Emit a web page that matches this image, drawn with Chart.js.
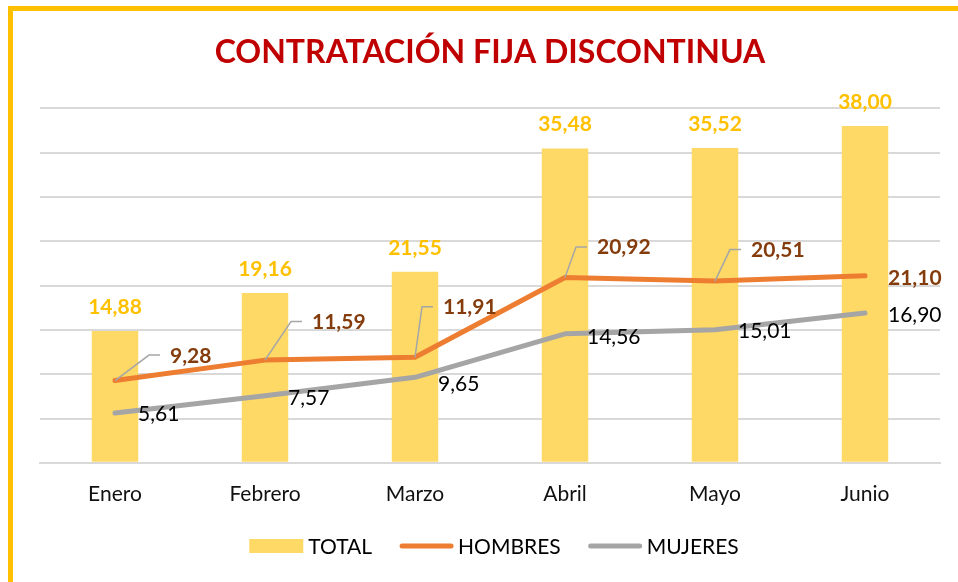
<!DOCTYPE html>
<html>
<head>
<meta charset="utf-8">
<title>Contratación fija discontinua</title>
<script src="https://cdn.jsdelivr.net/npm/chart.js@4.4.0/dist/chart.umd.min.js"></script>
<style>
  body { margin: 0; background: #fff; overflow: hidden; }
  #frame {
    position: absolute; left: 8px; top: 6px; width: 980px; height: 600px;
    border-top: 5px solid #FFC000; border-left: 5px solid #FFC000;
  }
  #wrap { position: absolute; left: 0; top: 0; width: 958px; height: 582px; }
</style>
</head>
<body>
<div id="frame"></div>
<div id="wrap"><canvas id="chart" width="958" height="582"></canvas></div>
<script>
// datos del gráfico
const meses = ['Enero', 'Febrero', 'Marzo', 'Abril', 'Mayo', 'Junio'];
const total = [14.88, 19.16, 21.55, 35.48, 35.52, 38.00];
const hombres = [9.28, 11.59, 11.91, 20.92, 20.51, 21.10];
const mujeres = [5.61, 7.57, 9.65, 14.56, 15.01, 16.90];
const ejeMax = 40;
const ejePaso = 5;

const FONT = 'Lato, "Open Sans", sans-serif';
const fmt = v => v.toFixed(2).replace('.', ',');

// where each hand placed label sits relative to its point: [dx to left edge, dy to baseline]
const posHombres = [[55, -18], [47, -31], [28, -43], [32, -23], [36, -24], [23, 9]];
const posMujeres = [[23, 8], [23, 9], [23, 14], [22, 10], [23, 8], [23, 9]];

const etiquetas = {
    id: 'etiquetas',
    afterDatasetsDraw(chart) {
        const ctx = chart.ctx;
        ctx.save();

        // TOTAL labels above the bars
        ctx.font = 'bold 21px ' + FONT;
        ctx.fillStyle = '#FFC000';
        ctx.textAlign = 'center';
        ctx.textBaseline = 'alphabetic';
        chart.getDatasetMeta(0).data.forEach((bar, i) => {
            ctx.fillText(fmt(total[i]), bar.x, bar.y - 17);
        });

        // HOMBRES labels with leader lines
        ctx.textAlign = 'left';
        chart.getDatasetMeta(1).data.forEach((pt, i) => {
            const [dx, dy] = posHombres[i];
            const lx = pt.x + dx, ly = pt.y + dy;
            if (i < hombres.length - 1) {
                ctx.strokeStyle = '#A6A6A6';
                ctx.lineWidth = 1.5;
                ctx.beginPath();
                ctx.moveTo(pt.x, pt.y);
                ctx.lineTo(lx - 21, ly - 7.5);
                ctx.lineTo(lx - 10, ly - 7.5);
                ctx.stroke();
            }
            ctx.fillStyle = '#843C0C';
            ctx.font = 'bold 21px ' + FONT;
            ctx.fillText(fmt(hombres[i]), lx, ly);
        });

        // MUJERES labels
        ctx.font = '21px ' + FONT;
        ctx.fillStyle = '#000';
        chart.getDatasetMeta(2).data.forEach((pt, i) => {
            const [dx, dy] = posMujeres[i];
            ctx.fillText(fmt(mujeres[i]), pt.x + dx, pt.y + dy);
        });
        ctx.restore();
    },
    afterDraw(chart) {
        // legend at the bottom
        const ctx = chart.ctx;
        const area = chart.chartArea;
        ctx.save();
        ctx.font = '21px ' + FONT;
        ctx.textBaseline = 'alphabetic';
        ctx.textAlign = 'left';
        const items = chart.data.datasets.map(d => ({ label: d.label, color: d.backgroundColor || d.borderColor, bar: d.type === 'bar' }));
        const sw = 54, gapIn = 5, gapOut = 27;
        let width = 0;
        items.forEach((it, k) => {
            it.w = ctx.measureText(it.label).width;
            width += sw + gapIn + it.w + (k < items.length - 1 ? gapOut : 0);
        });
        let x = (area.left + area.right) / 2 + 4 - width / 2;
        const y = 546;
        items.forEach(it => {
            if (it.bar) {
                ctx.fillStyle = it.color;
                ctx.fillRect(x, y - 7, sw, 14);
            } else {
                ctx.strokeStyle = it.color;
                ctx.lineWidth = 5;
                ctx.lineCap = 'round';
                ctx.beginPath();
                ctx.moveTo(x + 3, y);
                ctx.lineTo(x + sw - 2, y);
                ctx.stroke();
            }
            ctx.fillStyle = '#000';
            ctx.fillText(it.label, x + sw + gapIn, y + 7.5);
            x += sw + gapIn + it.w + gapOut;
        });
        ctx.restore();
    }
};

const ctx = document.getElementById('chart').getContext('2d');
new Chart(ctx, {
    data: {
        labels: meses,
        datasets: [
            {
                type: 'bar',
                label: 'TOTAL',
                data: total,
                backgroundColor: '#FFD966',
                barPercentage: 0.62,
                categoryPercentage: 0.5,
                order: 3
            },
            {
                type: 'line',
                label: 'HOMBRES',
                data: hombres,
                borderColor: '#ED7D31',
                backgroundColor: '#ED7D31',
                borderWidth: 5,
                borderCapStyle: 'round',
                borderJoinStyle: 'round',
                pointRadius: 0,
                tension: 0,
                order: 1
            },
            {
                type: 'line',
                label: 'MUJERES',
                data: mujeres,
                borderColor: '#A5A5A5',
                backgroundColor: '#A5A5A5',
                borderWidth: 5,
                borderCapStyle: 'round',
                borderJoinStyle: 'round',
                pointRadius: 0,
                tension: 0,
                order: 2
            }
        ]
    },
    options: {
        responsive: false,
        animation: false,
        layout: { padding: { left: 40, right: 18, top: 0, bottom: 64 } },
        plugins: {
            legend: { display: false },
            tooltip: { enabled: false },
            title: {
                display: true,
                text: 'CONTRATACIÓN FIJA DISCONTINUA',
                color: '#C00000',
                font: { family: FONT, size: 32, weight: 'bold' },
                padding: { top: 33, bottom: 37 }
            }
        },
        scales: {
            x: {
                grid: { display: false },
                border: { color: '#D9D9D9', width: 2 },
                ticks: { color: '#111', font: { family: FONT, size: 21 }, padding: 11 }
            },
            y: {
                min: 0,
                max: ejeMax,
                ticks: { stepSize: ejePaso, display: false },
                grid: { color: '#D9D9D9', lineWidth: 2, drawTicks: false },
                border: { display: false }
            }
        }
    },
    plugins: [etiquetas]
});
</script>
</body>
</html>
